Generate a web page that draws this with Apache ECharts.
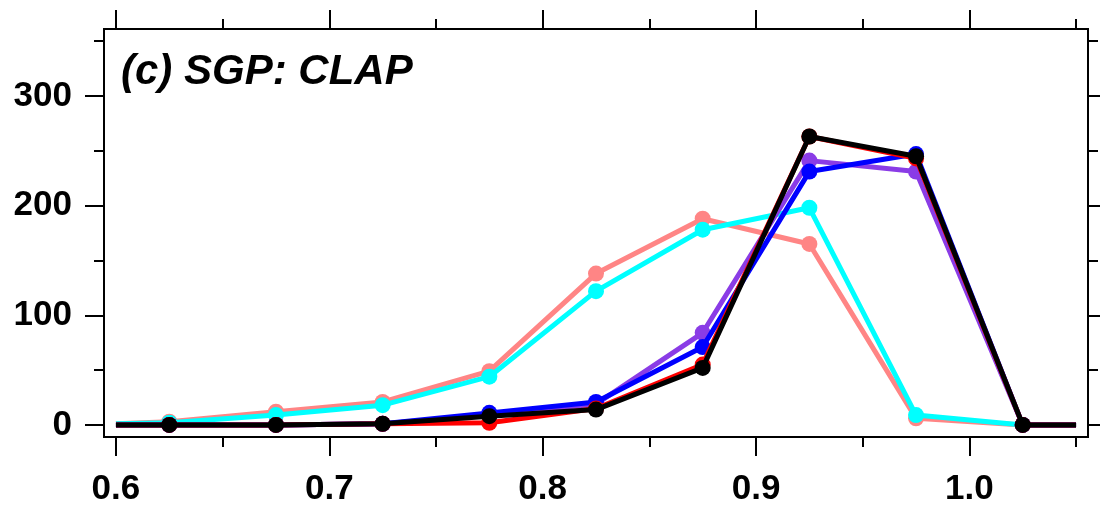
<!DOCTYPE html>
<html>
<head>
<meta charset="utf-8">
<script src="https://cdn.jsdelivr.net/npm/echarts@6/dist/echarts.min.js"></script>
<style>html,body{margin:0;padding:0;background:#fff;}#c{width:1100px;height:509px;}</style>
</head>
<body>
<div id="c"></div>
<script>
const xValues = [0.6, 0.625, 0.675, 0.725, 0.775, 0.825, 0.875, 0.925, 0.975, 1.025, 1.05];
const salmon = [1, 3, 12, 21, 49, 138, 188, 165, 6, 0, 0];
const cyan   = [1, 2, 9, 18, 44, 122, 178, 198, 9, 0, 0];
const purple = [0, 0, 0, 1, 9, 19, 84, 241, 231, 0, 0];
const blue   = [0, 0, 0, 1, 11, 21, 71, 231, 247, 0, 0];
const red    = [0, 0, 0, 1, 2, 15, 55, 263, 243, 0, 0];
const black  = [0, 0, 0, 1, 8, 14, 52, 263, 245, 0, 0];
const xMajor = [0.6, 0.7, 0.8, 0.9, 1.0];
const xMinor = [0.65, 0.75, 0.85, 0.95, 1.05];
const yMajor = [0, 100, 200, 300];
const yMinor = [50, 150, 250, 350];
const titleText = '(c) SGP: CLAP';

const seriesDefs = [
  {name: 'salmon', color: '#FF8585', data: salmon},
  {name: 'cyan', color: '#00FFFF', data: cyan},
  {name: 'purple', color: '#8A3CE6', data: purple},
  {name: 'blue', color: '#0000FF', data: blue},
  {name: 'red', color: '#FF0000', data: red},
  {name: 'black', color: '#000000', data: black}
];

const XMIN = 0.5944, XMAX = 1.0556, YMIN = -11, YMAX = 361;
const lineSt = {color: '#000', width: 2};
function xAx(pos, vals, len, labels) {
  return {
    type: 'value', position: pos, min: XMIN, max: XMAX,
    axisLine: {show: true, onZero: false, lineStyle: lineSt},
    axisTick: {show: true, inside: false, length: len, customValues: vals, lineStyle: {color: '#000', width: 2}},
    axisLabel: labels ? {show: true, customValues: vals, margin: 35, color: '#000', fontSize: 35, fontWeight: 'bold', fontFamily: 'Liberation Sans, Arial, sans-serif', formatter: v => v.toFixed(1)} : {show: false},
    splitLine: {show: false}
  };
}
function yAx(pos, vals, len, labels) {
  return {
    type: 'value', position: pos, min: YMIN, max: YMAX,
    axisLine: {show: true, onZero: false, lineStyle: lineSt},
    axisTick: {show: true, inside: false, length: len, customValues: vals, lineStyle: {color: '#000', width: 2}},
    axisLabel: labels ? {show: true, customValues: vals, margin: 32, color: '#000', fontSize: 35, fontWeight: 'bold', fontFamily: 'Liberation Sans, Arial, sans-serif'} : {show: false},
    splitLine: {show: false}
  };
}

const n = xValues.length;
const chart = echarts.init(document.getElementById('c'), null, {renderer: 'canvas'});
chart.setOption({
  animation: false,
  backgroundColor: '#fff',
  title: {
    text: titleText, left: 116, top: 46,
    textStyle: {fontSize: 42, fontWeight: 'bold', fontStyle: 'italic', color: '#000', fontFamily: 'Liberation Sans, Arial, sans-serif'}
  },
  grid: {left: 104, right: 12, top: 29, bottom: 72, containLabel: false},
  xAxis: [
    xAx('bottom', xMajor, 19, true),
    xAx('bottom', xMinor, 10, false),
    xAx('top', xMajor, 19, false),
    xAx('top', xMinor, 10, false)
  ],
  yAxis: [
    yAx('left', yMajor, 19, true),
    yAx('left', yMinor, 10, false),
    yAx('right', yMajor, 19, false),
    yAx('right', yMinor, 10, false)
  ],
  series: seriesDefs.map((s, k) => ({
    type: 'line', name: s.name, xAxisIndex: 0, yAxisIndex: 0,
    data: xValues.map((x, i) => [x, s.data[i]]),
    symbol: 'circle',
    symbolSize: (v, p) => (p.dataIndex === 0 || p.dataIndex === n - 1) ? 0 : 16,
    showAllSymbol: true,
    itemStyle: {color: s.color},
    lineStyle: {color: s.color, width: 5},
    z: 2 + k,
    clip: true
  }))
});
</script>
</body>
</html>
